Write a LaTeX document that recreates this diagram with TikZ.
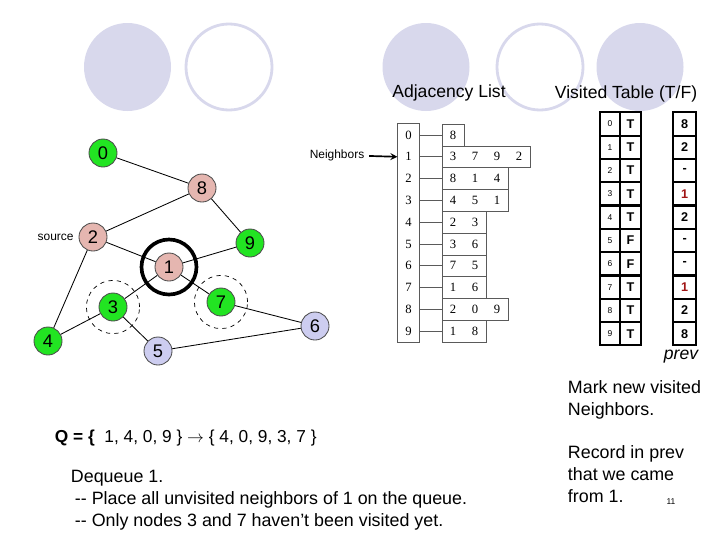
\documentclass[tikz,border=0pt]{standalone}
\usepackage{fontspec}
\setmainfont{Liberation Sans}
\newfontfamily\listfont{Liberation Serif}
\usetikzlibrary{arrows,positioning}
\definecolor{decocolor}{RGB}{216,216,236}
\definecolor{visitedcolor}{RGB}{34,228,34}
\definecolor{queuedcolor}{RGB}{229,182,176}
\definecolor{unseencolor}{RGB}{205,205,240}
\definecolor{prevcolor}{RGB}{160,20,20}
\definecolor{listcolor}{RGB}{90,90,90}
\newcommand{\cell}[1]{\makebox[0.55cm]{#1}}

\begin{document}
\begin{tikzpicture}[
    x=0.025cm, y=-0.025cm,
    vertex/.style={circle, draw=black!70, line width=0.6pt, minimum size=0.7cm, inner sep=0pt, font=\fontsize{13}{15}\selectfont},
    visited/.style={vertex, fill=visitedcolor},
    queued/.style={vertex, fill=queuedcolor},
    unseen/.style={vertex, fill=unseencolor},
    graphline/.style={line width=0.6pt},
    ring/.style={circle, draw, dashed, line width=0.5pt, minimum size=1.33cm},
    idxcell/.style={minimum width=0.54cm, minimum height=0.545cm, inner sep=0pt, font=\listfont\fontsize{9}{10}\selectfont},
    listbox/.style={draw=listcolor, line width=0.5pt, minimum height=0.545cm, inner sep=0pt, anchor=west, font=\listfont\fontsize{9}{10}\selectfont},
    link/.style={draw=listcolor, line width=0.5pt},
    arrow/.style={line width=1.2pt,->,>=stealth},
    tabcell/.style={draw, line width=1.6pt, minimum height=0.5825cm, inner sep=0pt},
    numcell/.style={tabcell, minimum width=0.5cm, font=\fontsize{6}{7}\selectfont},
    flagcell/.style={tabcell, minimum width=0.525cm, font=\bfseries\fontsize{9}{10}\selectfont},
    prevcell/.style={tabcell, minimum width=0.57cm, font=\bfseries\fontsize{9}{10}\selectfont},
    heading/.style={font=\fontsize{12.5}{15}\selectfont},
    note/.style={align=left, anchor=west, font=\fontsize{12.7}{15.6}\selectfont}
]
\useasboundingbox (0,0) rectangle (720,540);

% Slide decoration
\fill[decocolor] (127.5,67) ellipse [x radius=43.5, y radius=44];
\draw[decocolor, line width=2pt] (229,67) ellipse [x radius=43, y radius=43];
\fill[decocolor] (426,67) ellipse [x radius=43.5, y radius=44];
\draw[decocolor, line width=2pt] (540,67) ellipse [x radius=43, y radius=43];
\fill[decocolor] (640,67) ellipse [x radius=43.5, y radius=44];

% Titles
\node[heading] (adjtitle) at (449,93) {Adjacency List};
\node[heading] (vistitle) at (626,94) {Visited Table (T/F)};

% Graph
\node[visited] (v0) at (103,153) {0};
\node[queued] (v8) at (202,188) {8};
\node[queued] (v2) at (93,237) {2};
\node[visited] (v9) at (250,243) {9};
\node[queued] (v1) at (169,267) {1};
\node[visited] (v3) at (113,307) {3};
\node[visited] (v7) at (221,302) {7};
\node[unseen] (v6) at (315,326) {6};
\node[visited] (v4) at (48,341) {4};
\node[unseen] (v5) at (158,351) {5};

\draw[graphline] (v0) -- (v8);
\draw[graphline] (v8) -- (v2);
\draw[graphline] (v8) -- (v9);
\draw[graphline] (v2) -- (v1);
\draw[graphline] (v9) -- (v1);
\draw[graphline] (v2) -- (v4);
\draw[graphline] (v1) -- (v3);
\draw[graphline] (v1) -- (v7);
\draw[graphline] (v3) -- (v4);
\draw[graphline] (v3) -- (v5);
\draw[graphline] (v7) -- (v6);
\draw[graphline] (v5) -- (v6);

% Current and newly visited
\node[circle, draw, line width=2.6pt, minimum size=1.375cm] (current) at (v1) {};
\node[ring] (ring3) at (v3) {};
\node[ring] (ring7) at (v7) {};

\node[left=0pt of v2, font=\fontsize{8.5}{10}\selectfont] (source) {source};

% Adjacency list
\node[idxcell] (i0) at (408.5,135) {0};
\node[idxcell] (i1) at (408.5,156.8) {1};
\node[idxcell] (i2) at (408.5,178.6) {2};
\node[idxcell] (i3) at (408.5,200.4) {3};
\node[idxcell] (i4) at (408.5,222.2) {4};
\node[idxcell] (i5) at (408.5,244) {5};
\node[idxcell] (i6) at (408.5,265.8) {6};
\node[idxcell] (i7) at (408.5,287.6) {7};
\node[idxcell] (i8) at (408.5,309.4) {8};
\node[idxcell] (i9) at (408.5,331.2) {9};
\draw[link] (i0.north west) rectangle (i9.south east);

\node[listbox] (l0) at (441.7,135) {\cell{8}};
\node[listbox] (l1) at (441.7,156.8) {\cell{3}\cell{7}\cell{9}\cell{2}};
\node[listbox] (l2) at (441.7,178.6) {\cell{8}\cell{1}\cell{4}};
\node[listbox] (l3) at (441.7,200.4) {\cell{4}\cell{5}\cell{1}};
\node[listbox] (l4) at (441.7,222.2) {\cell{2}\cell{3}};
\node[listbox] (l5) at (441.7,244) {\cell{3}\cell{6}};
\node[listbox] (l6) at (441.7,265.8) {\cell{7}\cell{5}};
\node[listbox] (l7) at (441.7,287.6) {\cell{1}\cell{6}};
\node[listbox] (l8) at (441.7,309.4) {\cell{2}\cell{0}\cell{9}};
\node[listbox] (l9) at (441.7,331.2) {\cell{1}\cell{8}};

\draw[link] (i0.east) -- (l0.west);
\draw[link] (i1.east) -- (l1.west);
\draw[link] (i2.east) -- (l2.west);
\draw[link] (i3.east) -- (l3.west);
\draw[link] (i4.east) -- (l4.west);
\draw[link] (i5.east) -- (l5.west);
\draw[link] (i6.east) -- (l6.west);
\draw[link] (i7.east) -- (l7.west);
\draw[link] (i8.east) -- (l8.west);
\draw[link] (i9.east) -- (l9.west);

\node[font=\fontsize{8.5}{10}\selectfont] (nbr) at (337,155) {Neighbors};
\draw[arrow] (nbr) -- (i1.west);

% Visited table and prev
\node[numcell] (t0) at (610,124) {0}; \node[flagcell] (f0) at (630.5,124) {T}; \node[prevcell] (p0) at (684.7,124) {8};
\node[numcell] (t1) at (610,147.3) {1}; \node[flagcell] (f1) at (630.5,147.3) {T}; \node[prevcell] (p1) at (684.7,147.3) {2};
\node[numcell] (t2) at (610,170.6) {2}; \node[flagcell] (f2) at (630.5,170.6) {T}; \node[prevcell] (p2) at (684.7,170.6) {-};
\node[numcell] (t3) at (610,193.9) {3}; \node[flagcell] (f3) at (630.5,193.9) {T}; \node[prevcell, text=prevcolor] (p3) at (684.7,193.9) {1};
\node[numcell] (t4) at (610,217.2) {4}; \node[flagcell] (f4) at (630.5,217.2) {T}; \node[prevcell] (p4) at (684.7,217.2) {2};
\node[numcell] (t5) at (610,240.5) {5}; \node[flagcell] (f5) at (630.5,240.5) {F}; \node[prevcell] (p5) at (684.7,240.5) {-};
\node[numcell] (t6) at (610,263.8) {6}; \node[flagcell] (f6) at (630.5,263.8) {F}; \node[prevcell] (p6) at (684.7,263.8) {-};
\node[numcell] (t7) at (610,287.1) {7}; \node[flagcell] (f7) at (630.5,287.1) {T}; \node[prevcell, text=prevcolor] (p7) at (684.7,287.1) {1};
\node[numcell] (t8) at (610,310.4) {8}; \node[flagcell] (f8) at (630.5,310.4) {T}; \node[prevcell] (p8) at (684.7,310.4) {2};
\node[numcell] (t9) at (610,333.7) {9}; \node[flagcell] (f9) at (630.5,333.7) {T}; \node[prevcell] (p9) at (684.7,333.7) {8};

\node[font=\itshape\fontsize{12.5}{15}\selectfont] (prevlabel) at (681,357) {prev};

% Notes
\node[note, font=\fontsize{12.3}{15}\selectfont] (queue) at (50,438) {\textbf{Q = \{} \ 1, 4, 0, 9 \} $\rightarrow$ \{ 4, 0, 9, 3, 7 \}};
\node[note, anchor=north west] (dequeue) at (66,465) {Dequeue 1.\\
\hspace{0.1cm}-{}- Place all unvisited neighbors of 1 on the queue.\\
\hspace{0.1cm}-{}- Only nodes 3 and 7 haven’t been visited yet.};
\node[note, anchor=north west] (marknote) at (563,376) {Mark new visited\\Neighbors.};
\node[note, anchor=north west] (recordnote) at (563,441) {Record in prev\\that we came\\from 1.};
\node[font=\fontsize{6}{7}\selectfont] (pagenum) at (671,502) {11};

\end{tikzpicture}
\end{document}
